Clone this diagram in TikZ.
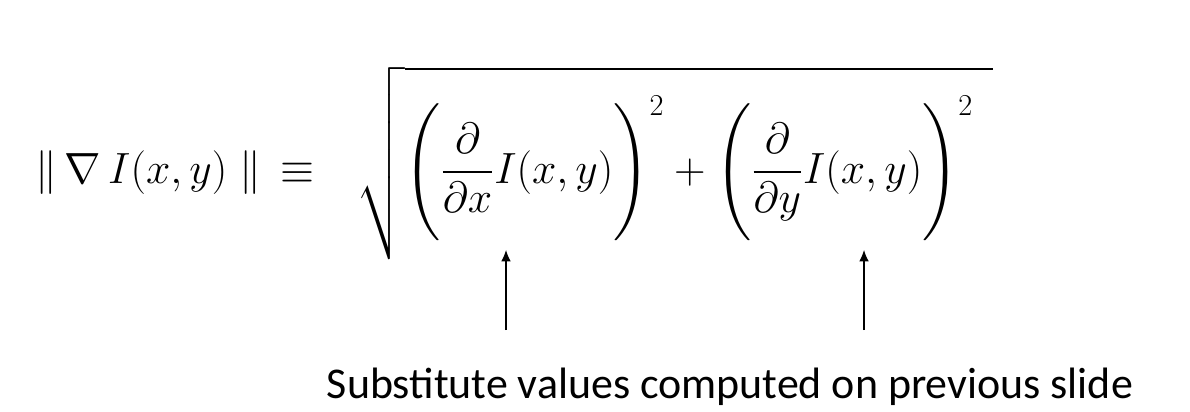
\documentclass[tikz,border=0pt]{standalone}
\usepackage{amsmath,amssymb}
\usepackage[no-math]{fontspec}
\setmainfont{Carlito}
\usetikzlibrary{positioning,arrows.meta}

\begin{document}
\begin{tikzpicture}[x=0.02cm,y=-0.02cm,
		formula/.style={inner sep=0pt,font=\fontsize{26}{30}\selectfont},
		caption/.style={inner sep=0pt,font=\fontsize{25}{30}\selectfont},
		pointer/.style={-{Latex[length=6.5pt,width=5.5pt]},line width=0.6pt}]
		\useasboundingbox (0,0) rectangle (1190,412);

		% Gradient magnitude
		\node[formula,anchor=base west] (grad) at (35,183) {$\|\,\nabla\, I(x,y)\;\|\,\equiv$};
		\node[formula,anchor=base west] (root) at (356,183)
			{$\sqrt{\rule[-1.6em]{0pt}{3.95em}\Biggl(\dfrac{\partial}{\partial x}I(x,y)\Biggr)^{2}+\Biggl(\dfrac{\partial}{\partial y}I(x,y)\Biggr)^{2}\;\,}$};

		% Pointers
		\coordinate (dxtail) at (506,330);
		\coordinate (dxtip) at (506,250);
		\coordinate (dytail) at (864,330);
		\coordinate (dytip) at (864,250);
		\draw[pointer] (dxtail) -- (dxtip);
		\draw[pointer] (dytail) -- (dytip);

		% Note
		\node[caption,anchor=base] (note) at (730,398) {Substitute values computed on previous slide};
	\end{tikzpicture}
\end{document}
